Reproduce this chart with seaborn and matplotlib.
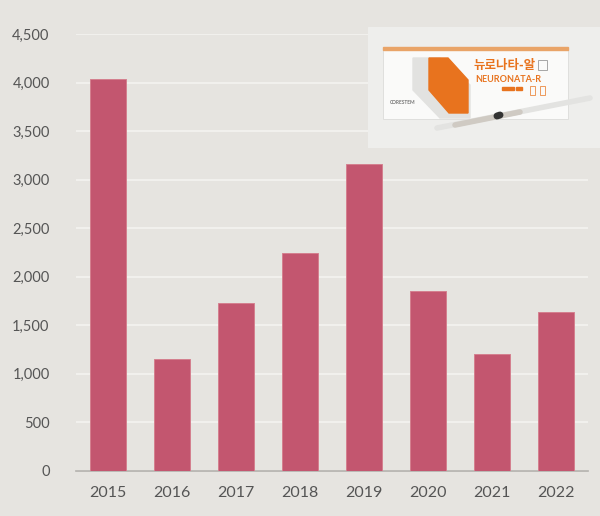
import numpy as np
import pandas as pd
import seaborn as sns
import matplotlib.pyplot as plt
from matplotlib.patches import Rectangle, Polygon
from matplotlib.ticker import FuncFormatter

# data
years = ['2015', '2016', '2017', '2018', '2019', '2020', '2021', '2022']
values = [4040, 1155, 1725, 2242, 3160, 1857, 1205, 1637]
y_ticks = [0, 500, 1000, 1500, 2000, 2500, 3000, 3500, 4000, 4500]

bg = '#e6e4e0'
bar_color = '#c3566f'
text_color = '#555555'

sns.set_theme(style='white')
plt.rcParams['font.family'] = ['Lato', 'Noto Sans CJK KR', 'DejaVu Sans']

df = pd.DataFrame({'year': years, 'value': values})

fig = plt.figure(figsize=(6, 5.16), dpi=100, facecolor=bg)
ax = fig.add_axes([76 / 600, 1 - 471 / 516, 512 / 600, 437 / 516])
ax.set_facecolor(bg)

sns.barplot(data=df, x='year', y='value', color=bar_color, width=0.55,
            saturation=1, edgecolor='#d4808f', linewidth=0.7, ax=ax, zorder=3)

ax.set_ylim(0, 4500)
ax.set_xlim(-0.5, len(years) - 0.5)
ax.set_yticks(y_ticks)
ax.yaxis.set_major_formatter(FuncFormatter(lambda v, p: f'{int(v):,}'))
ax.grid(axis='y', color='#f4f3f0', linewidth=1.2, zorder=0)
ax.grid(axis='x', visible=False)
for s in ['left', 'right', 'top']:
    ax.spines[s].set_visible(False)
ax.spines['bottom'].set_color('#b3b1ad')
ax.spines['bottom'].set_linewidth(1.2)
ax.tick_params(axis='y', length=0, pad=19, labelsize=10.5, labelcolor=text_color)
ax.tick_params(axis='x', length=0, pad=11, labelsize=11.5, labelcolor=text_color)
ax.set_xlabel('')
ax.set_ylabel('')

# product photo (drawn roughly)
ph = fig.add_axes([368 / 600, 1 - 148 / 516, 232 / 600, 121 / 516])
ph.set_xlim(368, 600)
ph.set_ylim(148, 27)
ph.axis('off')
ph.add_patch(Rectangle((368, 27), 232, 121, color='#eeeeec', zorder=0))
ph.add_patch(Rectangle((383, 49), 185, 70, facecolor='#fafaf9', edgecolor='#dcdcda', lw=0.6, zorder=1))
ph.add_patch(Rectangle((383, 47), 185, 3, color='#e9a468', zorder=2))
ph.add_patch(Polygon([(413, 58), (440, 58), (470, 85), (470, 118), (440, 118), (413, 90)],
                     closed=True, color='#e2e2e0', zorder=2))
ph.add_patch(Polygon([(429, 58), (448, 58), (468, 80), (468, 113), (449, 113), (429, 90)],
                     closed=True, color='#e8731e', zorder=3))
ph.text(474, 65, '뉴로나타-알', color='#e8731e', fontsize=9, fontweight='bold',
        family=['Noto Sans CJK KR'], va='center', ha='left', zorder=4)
ph.add_patch(Rectangle((538, 60), 9, 10, facecolor='none', edgecolor='#999999', lw=0.6, zorder=4))
ph.text(475, 80, 'NEURONATA-R', color='#e8731e', fontsize=6.5, fontweight='bold',
        va='center', ha='left', zorder=4)
ph.text(390, 103, 'CORESTEM', color='#777777', fontsize=3.5, fontweight='bold',
        va='center', ha='left', zorder=4)
ph.add_patch(Rectangle((502, 87), 12, 3, color='#e8731e', zorder=4))
ph.add_patch(Rectangle((516, 87), 6, 3, color='#e8731e', zorder=4))
ph.add_patch(Rectangle((530, 86), 5, 9, facecolor='none', edgecolor='#e8731e', lw=0.5, zorder=4))
ph.add_patch(Rectangle((540, 86), 5, 9, facecolor='none', edgecolor='#e8731e', lw=0.5, zorder=4))
# syringe
ph.plot([437, 590], [128, 98], color='#e3e3e1', lw=4, solid_capstyle='round', zorder=5)
ph.plot([455, 520], [125, 112], color='#cfcac3', lw=4, zorder=6)
ph.plot([497, 500], [116, 115], color='#333333', lw=5, zorder=7)

fig.savefig('out.png', dpi=100, facecolor=bg)
